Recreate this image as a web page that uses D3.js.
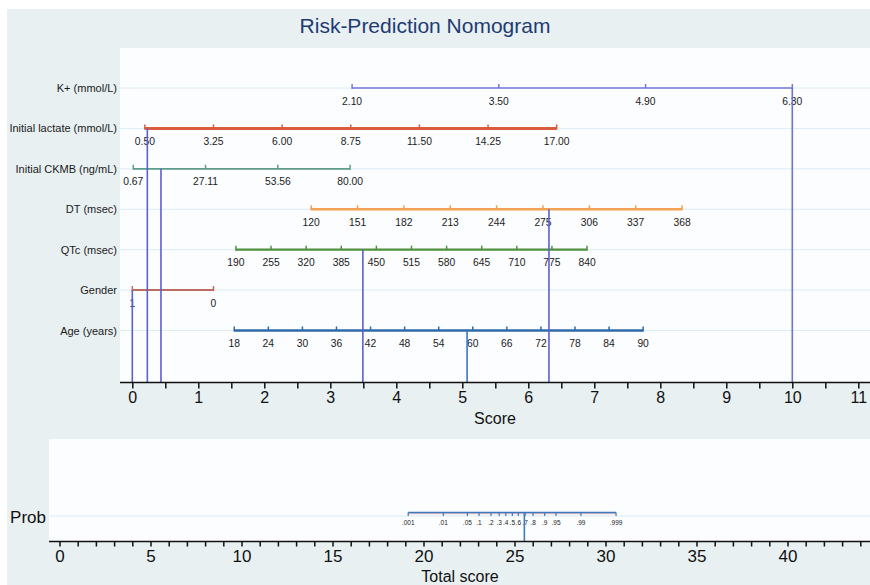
<!DOCTYPE html>
<html>
<head>
<meta charset="utf-8">
<script src="https://cdn.jsdelivr.net/npm/d3@7"></script>
<style>
  body { margin: 0; background: #fff; }
  text { font-family: "Liberation Sans", Arial, Helvetica, sans-serif; }
</style>
</head>
<body>
<div id="chart"></div>
<script>
// nomogram rows
var varNames = ["K+ (mmol/L)", "Initial lactate (mmol/L)", "Initial CKMB (ng/mL)",
  "DT (msec)", "QTc (msec)", "Gender", "Age (years)"];
var varTicks = [
  [2.10, 3.50, 4.90, 6.30],
  [0.50, 3.25, 6.00, 8.75, 11.50, 14.25, 17.00],
  [0.67, 27.11, 53.56, 80.00],
  [120, 151, 182, 213, 244, 275, 306, 337, 368],
  [190, 255, 320, 385, 450, 515, 580, 645, 710, 775, 840],
  [1, 0],
  [18, 24, 30, 36, 42, 48, 54, 60, 66, 72, 78, 84, 90]
];
var varDecimals = [2, 2, 2, 0, 0, 0, 0];
// points (score) at the first and last tick of each row
var varScoreLo = [3.33, 0.19, 0.015, 2.71, 1.57, 0, 1.545];
var varScoreHi = [10.0, 6.43, 3.30, 8.33, 6.89, 1.23, 7.74];
var varColors = ["#7276dc", "#d95c3e", "#5e9c8c", "#f2a155", "#4f903f", "#bb6b60", "#2f6aa9"];
var varWidths = [1.6, 3, 1.6, 2.6, 2.2, 2, 2.6];
// the example patient
var patient = [6.30, 0.60, 10.8, 279, 425, 1, 59];
var lineColors = ["#6f70d8", "#5b5fd2", "#5b5fd2", "#5b5fd2", "#5b5fd2", "#5b5fd2", "#3d74c6"];

// probability axis
var probLabels = [".001", ".01", ".05", ".1", ".2", ".3", ".4", ".5", ".6", ".7", ".8", ".9", ".95", ".99", ".999"];
var probTotals = [19.16, 21.09, 22.41, 23.05, 23.71, 24.16, 24.52, 24.88, 25.21, 25.58, 26.02, 26.66, 27.28, 28.65, 30.58];

var W = 870, H = 585;
var svg = d3.select("#chart").append("svg")
    .attr("width", W)
    .attr("height", H);

svg.append("rect").attr("x", 7).attr("y", 9).attr("width", W - 7).attr("height", H - 9)
    .style("fill", "#e8f0f2");
// top plot region
svg.append("rect").attr("x", 120).attr("y", 48).attr("width", 750).attr("height", 334.5)
    .style("fill", "#fcfdfe");
// bottom plot region
svg.append("rect").attr("x", 49).attr("y", 439).attr("width", 821).attr("height", 102.5)
    .style("fill", "#fcfdfe");

svg.append("text")
    .attr("x", 425).attr("y", 33)
    .attr("text-anchor", "middle")
    .style("font-size", "21px")
    .style("fill", "#1f3b73")
    .text("Risk-Prediction Nomogram");

var xScore = d3.scaleLinear().domain([0, 10]).range([132.3, 792.3]);
var yRow = d3.scalePoint().domain(varNames).range([88, 330.5]);
var axisY = 382.5;

var rows = varNames.map(function(name, i) {
  var ticks = varTicks[i];
  var s = d3.scaleLinear()
      .domain([ticks[0], ticks[ticks.length - 1]])
      .range([varScoreLo[i], varScoreHi[i]]);
  return {name: name, ticks: ticks, scale: s, i: i, y: yRow(name)};
});

// grid lines
svg.selectAll(".grid")
  .data(rows)
 .enter()
  .append("line")
  .attr("x1", 120).attr("x2", 870)
  .attr("y1", function(d) { return d.y; })
  .attr("y2", function(d) { return d.y; })
  .style("stroke", "#dcecf4")
  .style("stroke-width", 1);

// row labels
svg.selectAll(".rowlabel")
  .data(rows)
 .enter()
  .append("text")
  .attr("x", 117)
  .attr("y", function(d) { return d.y + 4; })
  .attr("text-anchor", "end")
  .style("font-size", "11px")
  .style("fill", "#1a1a1a")
  .text(function(d) { return d.name; });

var g = svg.selectAll(".row")
  .data(rows)
 .enter()
  .append("g");

g.append("line")
  .attr("x1", function(d) { return xScore(d.scale(d.ticks[0])); })
  .attr("x2", function(d) { return xScore(d.scale(d.ticks[d.ticks.length - 1])); })
  .attr("y1", function(d) { return d.y; })
  .attr("y2", function(d) { return d.y; })
  .style("stroke", function(d) { return varColors[d.i]; })
  .style("stroke-width", function(d) { return varWidths[d.i]; });

g.each(function(d) {
  var sel = d3.select(this);
  var n = d.ticks.length;
  sel.selectAll(".tk")
    .data(d.ticks)
   .enter()
    .append("line")
    .attr("x1", function(t) { return xScore(d.scale(t)); })
    .attr("x2", function(t) { return xScore(d.scale(t)); })
    .attr("y1", d.y - 4)
    .attr("y2", function(t, j) { return (j === 0 || j === n - 1) ? d.y + 1 : d.y; })
    .style("stroke", varColors[d.i])
    .style("stroke-width", 1.5);
  sel.selectAll(".tl")
    .data(d.ticks)
   .enter()
    .append("text")
    .attr("x", function(t) { return xScore(d.scale(t)); })
    .attr("y", d.y + 16.5)
    .attr("text-anchor", "middle")
    .style("font-size", "10.3px")
    .style("fill", "#1a1a1a")
    .text(function(t) { return t.toFixed(varDecimals[d.i]); });
});

// patient drop lines
var points = rows.map(function(d) { return d.scale(patient[d.i]); });
svg.selectAll(".drop")
  .data(rows)
 .enter()
  .append("line")
  .attr("x1", function(d) { return xScore(points[d.i]); })
  .attr("x2", function(d) { return xScore(points[d.i]); })
  .attr("y1", function(d) { return d.y; })
  .attr("y2", axisY)
  .style("stroke", function(d) { return lineColors[d.i]; })
  .style("stroke-width", 1.6);

// score axis
var scoreAxis = d3.axisBottom(xScore)
  .tickValues(d3.range(0, 11.01, 0.5))
  .tickSize(6)
  .tickPadding(3)
  .tickFormat(function(d) { return Number.isInteger(d) ? d : ""; });
var sa = svg.append("g")
  .attr("transform", "translate(0," + axisY + ")")
  .call(scoreAxis);
sa.select(".domain").remove();
sa.append("line").attr("x1", 120).attr("x2", 870).attr("y1", 0).attr("y2", 0)
  .style("stroke", "#111").style("stroke-width", 1.5);
sa.selectAll(".tick line").style("stroke", "#111").style("stroke-width", 1.5);
sa.selectAll("text")
  .style("font-size", "16px")
  .style("font-family", "'Liberation Sans', Arial, sans-serif")
  .style("fill", "#111");

svg.append("text")
  .attr("x", 495).attr("y", 424)
  .attr("text-anchor", "middle")
  .style("font-size", "16px")
  .style("fill", "#111")
  .text("Score");

// bottom panel
var xTotal = d3.scaleLinear().domain([0, 40]).range([59.5, 787.5]);
var totalY = 541.5;
var probY = 512.5;

svg.append("line").attr("x1", 49).attr("x2", 870).attr("y1", 516).attr("y2", 516)
  .style("stroke", "#dcecf4");

svg.append("text")
  .attr("x", 46).attr("y", 523)
  .attr("text-anchor", "end")
  .style("font-size", "17px")
  .style("fill", "#111")
  .text("Prob");

svg.append("line")
  .attr("x1", xTotal(probTotals[0])).attr("x2", xTotal(probTotals[probTotals.length - 1]))
  .attr("y1", probY + 1.2).attr("y2", probY + 1.2)
  .style("stroke", "#eab0b0").style("stroke-width", 1);
svg.append("line")
  .attr("x1", xTotal(probTotals[0])).attr("x2", xTotal(probTotals[probTotals.length - 1]))
  .attr("y1", probY).attr("y2", probY)
  .style("stroke", "#3a78c0").style("stroke-width", 1.6);

svg.selectAll(".ptk")
  .data(probTotals)
 .enter()
  .append("line")
  .attr("x1", function(d) { return xTotal(d); })
  .attr("x2", function(d) { return xTotal(d); })
  .attr("y1", probY)
  .attr("y2", probY + 3.5)
  .style("stroke", "#3a78c0")
  .style("stroke-width", 1.2);

svg.selectAll(".ptl")
  .data(probLabels)
 .enter()
  .append("text")
  .attr("x", function(d, i) { return xTotal(probTotals[i]); })
  .attr("y", 524.5)
  .attr("text-anchor", "middle")
  .style("font-size", "6.5px")
  .style("fill", "#222")
  .text(function(d) { return d; });

var total = d3.sum(points);
svg.append("line")
  .attr("x1", xTotal(total)).attr("x2", xTotal(total))
  .attr("y1", probY).attr("y2", totalY)
  .style("stroke", "#3c7bc4").style("stroke-width", 1.6);

var totalAxis = d3.axisBottom(xTotal)
  .tickValues(d3.range(0, 45, 1))
  .tickSize(5)
  .tickPadding(3)
  .tickFormat(function(d) { return d % 5 === 0 ? d : ""; });
var ta = svg.append("g")
  .attr("transform", "translate(0," + totalY + ")")
  .call(totalAxis);
ta.select(".domain").remove();
ta.append("line").attr("x1", 49).attr("x2", 870).attr("y1", 0).attr("y2", 0)
  .style("stroke", "#111").style("stroke-width", 1.5);
ta.selectAll(".tick line").style("stroke", "#111").style("stroke-width", 1.5);
ta.selectAll("text")
  .style("font-size", "17px")
  .style("font-family", "'Liberation Sans', Arial, sans-serif")
  .style("fill", "#111");

svg.append("text")
  .attr("x", 460).attr("y", 582)
  .attr("text-anchor", "middle")
  .style("font-size", "16px")
  .style("fill", "#111")
  .text("Total score");
</script>
</body>
</html>
